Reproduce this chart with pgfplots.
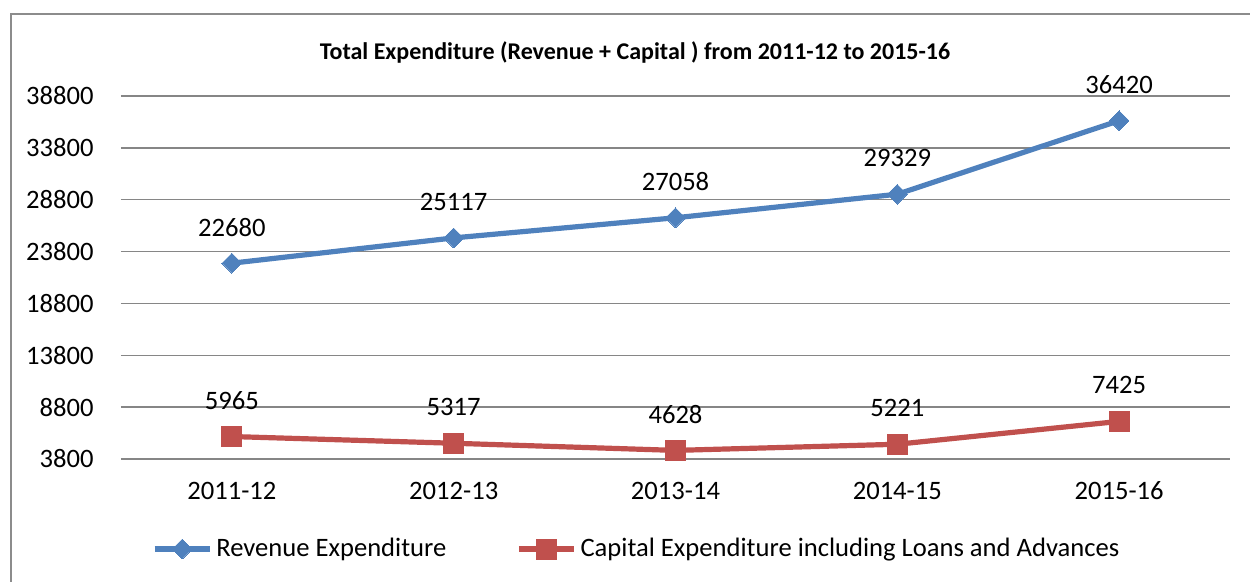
\documentclass[border=0pt]{standalone}
\usepackage{pgfplots}
\pgfplotsset{compat=1.18}
\usepackage{fontspec}
\setmainfont{Carlito}
\definecolor{revblue}{HTML}{4F81BD}
\definecolor{capred}{HTML}{C0504D}
\definecolor{gridgray}{HTML}{868686}
\definecolor{framegray}{HTML}{8C8C8C}
\begin{document}
\begin{tikzpicture}
\path[use as bounding box] (0,0) rectangle (625pt,291pt);
\draw[framegray, line width=1pt] (5.5pt,-2pt) -- (5.5pt,284pt) -- (630pt,284pt);
\node[font=\fontsize{12}{14}\selectfont\bfseries] at (317.5pt,265pt) {Total Expenditure (Revenue + Capital ) from 2011-12 to 2015-16};
\begin{axis}[
    at={(60.5pt,61.5pt)}, anchor=south west,
    scale only axis, width=554.5pt, height=181.5pt,
    xmin=-0.5, xmax=4.5, ymin=3800, ymax=38800,
    xtick={0,1,2,3,4},
    xticklabels={2011-12,2012-13,2013-14,2014-15,2015-16},
    ytick={3800,8800,13800,18800,23800,28800,33800,38800},
    scaled y ticks=false,
    major tick length=0pt,
    axis line style={draw=none},
    ymajorgrids, grid style={gridgray, line width=0.75pt},
    tick label style={font=\fontsize{13.3}{15}\selectfont},
    /pgf/number format/assume math mode=true,
    /pgf/number format/1000 sep={},
    yticklabel style={anchor=east, inner sep=0pt, xshift=-13.5pt,
        /pgf/number format/fixed, /pgf/number format/1000 sep={}},
    xticklabel style={anchor=base, inner sep=0pt, yshift=-20.5pt},
    nodes near coords,
    every node near coord/.append style={anchor=center, yshift=18pt, black,
        font=\fontsize{13.3}{15}\selectfont, /pgf/number format/1000 sep={},
        /pgf/number format/assume math mode=true},
    legend columns=2,
    legend style={draw=none, fill=none, at={(0.466,-0.248)}, anchor=center,
        font=\fontsize{13.3}{15}\selectfont,
        /tikz/every even column/.append style={column sep=33pt}},
    legend image code/.code={\draw[mark repeat=2,mark phase=2] plot coordinates {(0pt,0pt) (13.75pt,0pt) (27.5pt,0pt)};},
]
\addplot[revblue, line width=2.6pt, mark=square*, mark size=3.5pt,
    mark options={rotate=45, solid, fill=revblue, draw=revblue, line width=0pt}]
    coordinates {(0,22680) (1,25117) (2,27058) (3,29329) (4,36420)};
\addlegendentry{Revenue Expenditure}
\addplot[capred, line width=2.6pt, mark=square*, mark size=5pt,
    mark options={solid, fill=capred, draw=capred, line width=0pt}]
    coordinates {(0,5965) (1,5317) (2,4628) (3,5221) (4,7425)};
\addlegendentry{Capital Expenditure including Loans and Advances}
\end{axis}
\end{tikzpicture}
\end{document}
